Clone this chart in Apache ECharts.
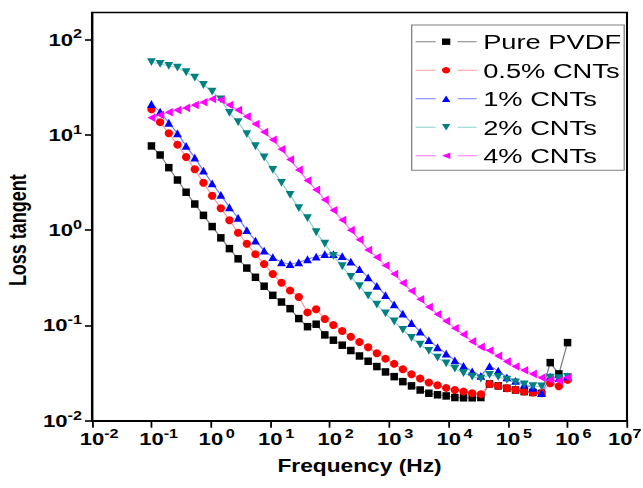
<!DOCTYPE html>
<html>
<head>
<meta charset="utf-8">
<script src="https://cdn.jsdelivr.net/npm/echarts@6/dist/echarts.min.js"></script>
<style>
  html, body { margin: 0; padding: 0; background: #fff; overflow: hidden; }
  #wrap { width: 643px; height: 488px; overflow: hidden; }
  #chart { height: 488px; transform-origin: 0 0; }
</style>
</head>
<body>
<div id="wrap"><div id="chart"></div></div>
<script>
// Frequency sweep (Hz), 49 points from 0.1 Hz to 1 MHz
const frequency = [0.1, 0.14, 0.196, 0.274, 0.383, 0.536, 0.75, 1.05, 1.47, 2.05,
  2.87, 4.02, 5.62, 7.87, 11.0, 15.4, 21.5, 30.1, 42.2, 59.0,
  82.5, 115, 162, 226, 316, 442, 619, 866, 1212, 1695,
  2371, 3318, 4642, 6494, 9085, 12711, 17783, 24880, 34807, 48697,
  68129, 95316, 133352, 186566, 261016, 365174, 510897, 714765, 1000000];

// Loss tangent of each composite
const purePVDF = [7.65, 6.15, 4.53, 3.36, 2.50, 1.88, 1.43, 1.09, 0.83, 0.64,
  0.50, 0.40, 0.32, 0.258, 0.207, 0.176, 0.150, 0.118, 0.097, 0.103,
  0.0795, 0.070, 0.062, 0.0545, 0.0478, 0.0421, 0.0370, 0.0325, 0.0290, 0.0257,
  0.0232, 0.0210, 0.0194, 0.0187, 0.0182, 0.0175, 0.0174, 0.0174, 0.0175, 0.0243,
  0.0232, 0.0219, 0.0210, 0.0202, 0.0198, 0.0194, 0.0407, 0.031, 0.066];
const cnt05 = [18.6, 13.6, 10.4, 7.9, 5.86, 4.36, 3.15, 2.30, 1.70, 1.27,
  0.94, 0.72, 0.56, 0.44, 0.347, 0.281, 0.232, 0.199, 0.137, 0.148,
  0.117, 0.101, 0.0875, 0.0762, 0.0671, 0.059, 0.051, 0.0448, 0.0395, 0.0347,
  0.0307, 0.0277, 0.0251, 0.0236, 0.0221, 0.0210, 0.0202, 0.0194, 0.0190, 0.0243,
  0.0232, 0.0219, 0.0210, 0.0202, 0.0198, 0.0194, 0.0247, 0.0230, 0.0268];
const cnt1 = [21.1, 17.5, 13.4, 10.4, 7.65, 5.77, 4.21, 3.10, 2.34, 1.74,
  1.35, 1.00, 0.776, 0.61, 0.52, 0.46, 0.44, 0.46, 0.495, 0.527,
  0.56, 0.56, 0.535, 0.467, 0.389, 0.32, 0.26, 0.208, 0.166, 0.133,
  0.106, 0.086, 0.070, 0.059, 0.0505, 0.043, 0.0376, 0.033, 0.0296, 0.0374,
  0.0335, 0.0285, 0.0262, 0.0240, 0.0221, 0.0195, 0.029, 0.028, 0.0292];
const cnt2 = [58, 55.5, 53, 50.7, 45.4, 39.8, 33.4, 28.5, 23.6, 17.0,
  13.6, 10.2, 7.6, 5.8, 4.3, 3.14, 2.35, 1.70, 1.34, 0.95,
  0.72, 0.537, 0.418, 0.323, 0.259, 0.205, 0.165, 0.134, 0.110, 0.090,
  0.074, 0.063, 0.054, 0.046, 0.040, 0.0352, 0.0315, 0.029, 0.0276, 0.0303,
  0.0289, 0.0269, 0.0252, 0.0240, 0.0230, 0.0229, 0.0283, 0.0280, 0.0288];
const cnt4 = [15.1, 16.2, 17.3, 18.2, 19.2, 20.6, 22.0, 23.8, 23.2, 20.6,
  18.2, 15.6, 13.0, 10.7, 8.9, 7.05, 5.5, 4.29, 3.31, 2.65,
  2.08, 1.62, 1.28, 1.00, 0.795, 0.62, 0.52, 0.425, 0.347, 0.279,
  0.230, 0.188, 0.156, 0.131, 0.111, 0.0934, 0.0805, 0.068, 0.0595, 0.0545,
  0.0479, 0.0417, 0.037, 0.0338, 0.031, 0.0283, 0.0268, 0.0262, 0.0284];

const seriesNames = ['Pure PVDF', '0.5% CNTs', '1% CNTs', '2% CNTs', '4% CNTs'];

// The figure is drawn narrow and stretched horizontally by S.
const S = 1.3;
const sx = v => v / S;
const W = 643, H = 488;

const FONT = "'Liberation Sans', Arial, sans-serif";
const SYM_DOWN = 'path://M0,0L10,0L5,9Z';
const SYM_LEFT = 'path://M10,0L10,10L0,5Z';

const styles = [
  { data: purePVDF, symbol: 'rect', size: [sx(7.5), 7.5], color: '#000000', line: '#808080' },
  { data: cnt05, symbol: 'circle', size: [sx(8.3), 8], color: '#ff0000', line: '#ff9a9a' },
  { data: cnt1, symbol: 'triangle', size: [sx(8.8), 7.8], color: '#0000ff', line: '#7878ff' },
  { data: cnt2, symbol: SYM_DOWN, size: [sx(8.8), 7.8], color: '#008080', line: '#8fd0d0' },
  { data: cnt4, symbol: SYM_LEFT, size: [sx(8), 8.6], color: '#ff00ff', line: '#ff70ff' }
];

const pow10Label = v => Math.round(Math.log10(v));

const el = document.getElementById('chart');
el.style.width = sx(W) + 'px';
el.style.transform = 'scaleX(' + S + ')';
const chart = echarts.init(el, null, { renderer: 'svg', width: sx(W), height: H });

const plotLeft = 92, plotRight = 627;
const plotTop = 12.5, plotBottom = 420.7, decadeTop = 39.6;
const decadePx = (plotBottom - decadeTop) / 4;
const yMax = Math.pow(10, 2 + (decadeTop - plotTop) / decadePx);
const xMax = 1e7;

const labelRich = {
  b: { fontFamily: FONT, fontWeight: 'bold', fontSize: 17, lineHeight: 18, color: '#000' },
  sup: { fontFamily: FONT, fontWeight: 'bold', fontSize: 12.5, lineHeight: 13,
         padding: [0, 0, 11, 0], color: '#000' }
};

// "10" sits centred on each tick; the last label is nudged in to stay inside the frame edge.
const xLabel = v => {
  const e = pow10Label(v);
  if (v >= xMax) return '{b|10}{sup|' + e + '}{padR|}';
  return '{pad|}{b|10}{supw|' + e + '}';
};

chart.setOption({
  animation: false,
  backgroundColor: '#ffffff',
  grid: [
    { left: sx(plotLeft), right: sx(W - plotRight), top: plotTop, bottom: H - plotBottom,
      outerBoundsMode: 'none', containLabel: false,
      show: true, borderColor: '#000', borderWidth: 1.6, backgroundColor: 'transparent' },
    { left: sx(plotLeft), right: sx(W - plotRight), top: decadeTop, bottom: H - plotBottom,
      outerBoundsMode: 'none', containLabel: false, show: false }
  ],
  xAxis: [
    {
      gridIndex: 0, type: 'log', logBase: 10, min: 0.01, max: xMax,
      axisLine: { lineStyle: { color: '#000', width: 1.8 } },
      axisTick: { inside: false, length: 7, lineStyle: { color: '#000', width: sx(1.8) } },
      splitLine: { show: false },
      minorTick: { show: false },
      axisLabel: {
        margin: 9,
        hideOverlap: false,
        formatter: xLabel,
        rich: Object.assign({}, labelRich, {
          supw: Object.assign({}, labelRich.sup, { width: 11 }),
          pad: { width: 11 },
          padR: { width: 3.5 }
        })
      },
      name: 'Frequency (Hz)', nameLocation: 'middle', nameGap: 35,
      nameTextStyle: { fontFamily: FONT, fontWeight: 'bold', fontSize: 17.5, lineHeight: 20, color: '#000' }
    },
    { gridIndex: 1, type: 'log', min: 0.01, max: xMax, show: false }
  ],
  yAxis: [
    {
      gridIndex: 0, type: 'log', logBase: 10, min: 0.01, max: yMax,
      axisLine: { show: true, lineStyle: { color: '#000', width: sx(2.2) } },
      axisTick: { show: false }, axisLabel: { show: false },
      splitLine: { show: false }, minorTick: { show: false }
    },
    {
      gridIndex: 1, type: 'log', logBase: 10, min: 0.01, max: 100,
      axisLine: { show: false },
      axisTick: { show: true, inside: false, length: sx(7), lineStyle: { color: '#000', width: 1.6 } },
      splitLine: { show: false }, minorTick: { show: false },
      axisLabel: {
        margin: sx(10),
        hideOverlap: false,
        formatter: v => '{b|10}{sup|' + pow10Label(v) + '}',
        rich: labelRich
      },
      name: 'Loss tangent', nameLocation: 'middle', nameGap: sx(62),
      nameTextStyle: { fontFamily: FONT, fontWeight: 'bold', fontSize: 18, lineHeight: 18, color: '#000' }
    }
  ],
  legend: {
    orient: 'vertical', left: sx(411.7), top: 25,
    padding: [6.2, sx(3), 4, sx(3.3)],
    itemWidth: sx(61), itemHeight: 8, itemGap: 7.5,
    backgroundColor: '#fff', borderColor: '#808080', borderWidth: 1,
    selectedMode: false,
    lineStyle: { type: [sx(20), sx(22)], width: 1 },
    textStyle: { fontFamily: FONT, fontSize: 21, lineHeight: 20, color: '#000' },
    data: seriesNames
  },
  series: styles.map((s, i) => ({
    name: seriesNames[i],
    type: 'line',
    xAxisIndex: 0, yAxisIndex: 0,
    data: frequency.map((f, k) => [f, s.data[k]]),
    symbol: s.symbol,
    symbolSize: s.size,
    showSymbol: true,
    showAllSymbol: true,
    silent: true,
    itemStyle: { color: s.color },
    lineStyle: { color: s.line, width: 1 },
    emphasis: { disabled: true }
  }))
});
</script>
</body>
</html>
